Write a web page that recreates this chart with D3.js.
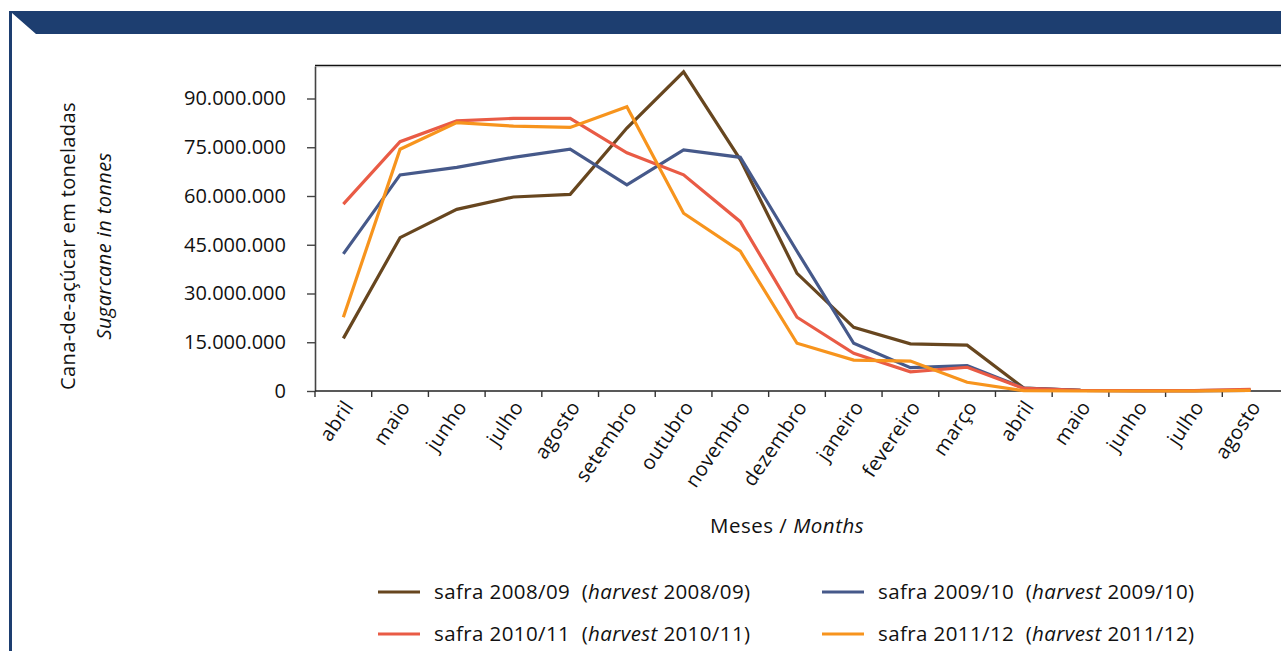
<!DOCTYPE html>
<html>
<head>
<meta charset="utf-8">
<script src="https://cdn.jsdelivr.net/npm/d3@7"></script>
<style>
  body { margin: 0; background: #fff; }
  svg { display: block; font-family: "Open Sans", sans-serif; }
</style>
</head>
<body>
<div id="app"></div>
<script>
const width = 1281;
const height = 651;

// months of the harvest year (april to august of next year)
const months = ['abril', 'maio', 'junho', 'julho', 'agosto', 'setembro', 'outubro', 'novembro',
  'dezembro', 'janeiro', 'fevereiro', 'março', 'abril', 'maio', 'junho', 'julho', 'agosto'];

const yTicks = [0, 15e6, 30e6, 45e6, 60e6, 75e6, 90e6];

// tonnes crushed per month
const safra0809 = [16.2e6, 47.2e6, 55.9e6, 59.7e6, 60.5e6, 80.9e6, 98.2e6, 71.2e6,
  36.2e6, 19.6e6, 14.5e6, 14.1e6, 0.9e6, 0.2e6, 0.1e6, 0.1e6, 0.2e6];
const safra0910 = [42.2e6, 66.5e6, 68.8e6, 71.9e6, 74.4e6, 63.4e6, 74.2e6, 71.9e6,
  43e6, 14.7e6, 7.2e6, 7.8e6, 0.9e6, 0.2e6, 0.1e6, 0.1e6, 0.2e6];
const safra1011 = [57.5e6, 76.7e6, 83.1e6, 83.9e6, 83.9e6, 73.3e6, 66.5e6, 52.1e6,
  22.7e6, 11.6e6, 5.9e6, 7.3e6, 0.8e6, 0.2e6, 0.1e6, 0.1e6, 0.5e6];
const safra1112 = [22.7e6, 74.4e6, 82.6e6, 81.5e6, 81.1e6, 87.5e6, 54.7e6, 43e6,
  14.7e6, 9.5e6, 9.2e6, 2.7e6, 0.1e6, 0.0e6, 0.0e6, 0.0e6, 0.2e6];

const seriesNames = ['2008/09', '2009/10', '2010/11', '2011/12'];
const seriesColors = ['#67461f', '#46598a', '#e95b45', '#f7941d'];
const seriesValues = [safra0809, safra0910, safra1011, safra1112];

const series = seriesNames.map((name, i)=>({name, color: seriesColors[i], values: seriesValues[i]}));

const margin = {top: 66, left: 315, right: 2, bottom: 260};

const x = d3.scaleBand()
  .domain(d3.range(months.length))
  .range([margin.left, width - margin.right]);

const y = d3.scaleLinear()
  .domain([0, 100e6])
  .range([height - margin.bottom, margin.top]);

const fmt = d3.formatLocale({decimal: ',', thousands: '.', grouping: [3], currency: ['', '']}).format(',');

const svg = d3.select('#app').append('svg')
  .attr('width', width)
  .attr('height', height);

// header banner with the cut corner
const navy = '#1d3e70';
svg.append('path')
  .attr('d', 'M9,11 L1281,11 L1281,34 L36,34 L12,13 L12,651 L9,651 Z')
  .attr('fill', navy);

// plot frame: top border with a small shadow
svg.append('line')
  .attr('x1', margin.left).attr('x2', width)
  .attr('y1', margin.top + 0.5).attr('y2', margin.top + 0.5)
  .attr('stroke', '#bdbdbd').attr('stroke-width', 1.5);
svg.append('line')
  .attr('x1', margin.left).attr('x2', width)
  .attr('y1', margin.top - 0.6).attr('y2', margin.top - 0.6)
  .attr('stroke', '#111').attr('stroke-width', 1.4);

// y axis
const yAxis = svg.append('g')
  .attr('transform', `translate(${margin.left},0)`)
  .call(d3.axisLeft(y).tickValues(yTicks).tickFormat(fmt).tickSize(8).tickPadding(21).tickSizeOuter(0));
yAxis.select('.domain').attr('stroke', '#444').attr('stroke-width', 1.6);
yAxis.selectAll('.tick line').attr('stroke', '#444').attr('stroke-width', 1.4);
yAxis.selectAll('.tick text')
  .attr('font-family', '"Open Sans", sans-serif')
  .attr('font-size', 20)
  .attr('fill', '#111');

// x axis, ticks on band edges
const xAxis = svg.append('g')
  .attr('transform', `translate(0,${height - margin.bottom})`)
  .call(d3.axisBottom(x).tickSize(6).tickSizeOuter(0).tickFormat(()=>''));
xAxis.select('.domain').attr('d', `M${margin.left},0H${width}`).attr('stroke', '#222').attr('stroke-width', 1.6);
xAxis.selectAll('.tick').attr('transform', (d)=>`translate(${x(d)},0)`);
xAxis.selectAll('.tick line').attr('stroke', '#333').attr('stroke-width', 1.4);

// rotated month labels
svg.append('g')
  .selectAll('text')
  .data(months)
  .join('text')
  .attr('transform', (d, i)=>`translate(${x(i) + x.bandwidth() / 2 + 5},${height - margin.bottom + 12}) rotate(-56)`)
  .attr('text-anchor', 'end')
  .attr('dy', '0.35em')
  .attr('font-size', 20)
  .attr('letter-spacing', 0.3)
  .attr('fill', '#111')
  .text((d)=>d);

// series lines
const line = d3.line()
  .x((d, i)=>x(i) + x.bandwidth() / 2)
  .y((d)=>y(d));

svg.append('g')
  .selectAll('path')
  .data(series)
  .join('path')
  .attr('d', (d)=>line(d.values))
  .attr('fill', 'none')
  .attr('stroke', (d)=>d.color)
  .attr('stroke-width', 3.2)
  .attr('stroke-linejoin', 'miter');

// axis titles
const yTitle = svg.append('text')
  .attr('transform', 'translate(75,246) rotate(-90)')
  .attr('text-anchor', 'middle')
  .attr('font-size', 20)
  .attr('letter-spacing', 0.4)
  .attr('fill', '#111');
yTitle.append('tspan').attr('x', 0).attr('dy', 0).text('Cana-de-açúcar em toneladas');
yTitle.append('tspan').attr('x', 0).attr('dy', 36).attr('font-style', 'italic').text('Sugarcane in tonnes');

const xTitle = svg.append('text')
  .attr('x', 787)
  .attr('y', 533)
  .attr('text-anchor', 'middle')
  .attr('font-size', 20.5)
  .attr('letter-spacing', 0.5)
  .attr('fill', '#111');
xTitle.append('tspan').text('Meses / ');
xTitle.append('tspan').attr('font-style', 'italic').text('Months');

// legend, two columns
const legendPos = [[378, 592], [822, 592], [378, 634], [822, 634]];
const legend = svg.append('g')
  .selectAll('g')
  .data(series)
  .join('g')
  .attr('transform', (d, i)=>`translate(${legendPos[i][0]},${legendPos[i][1]})`);
legend.append('line')
  .attr('x1', 0).attr('x2', 42)
  .attr('stroke', (d)=>d.color)
  .attr('stroke-width', 3.2);
const lt = legend.append('text')
  .attr('x', 56)
  .attr('dy', '0.35em')
  .attr('font-size', 20.5)
  .attr('letter-spacing', 0.4)
  .attr('fill', '#111');
lt.append('tspan').text((d)=>`safra ${d.name}  (`).attr('xml:space', 'preserve');
lt.append('tspan').attr('font-style', 'italic').text('harvest');
lt.append('tspan').text((d)=>` ${d.name})`);
</script>
</body>
</html>
